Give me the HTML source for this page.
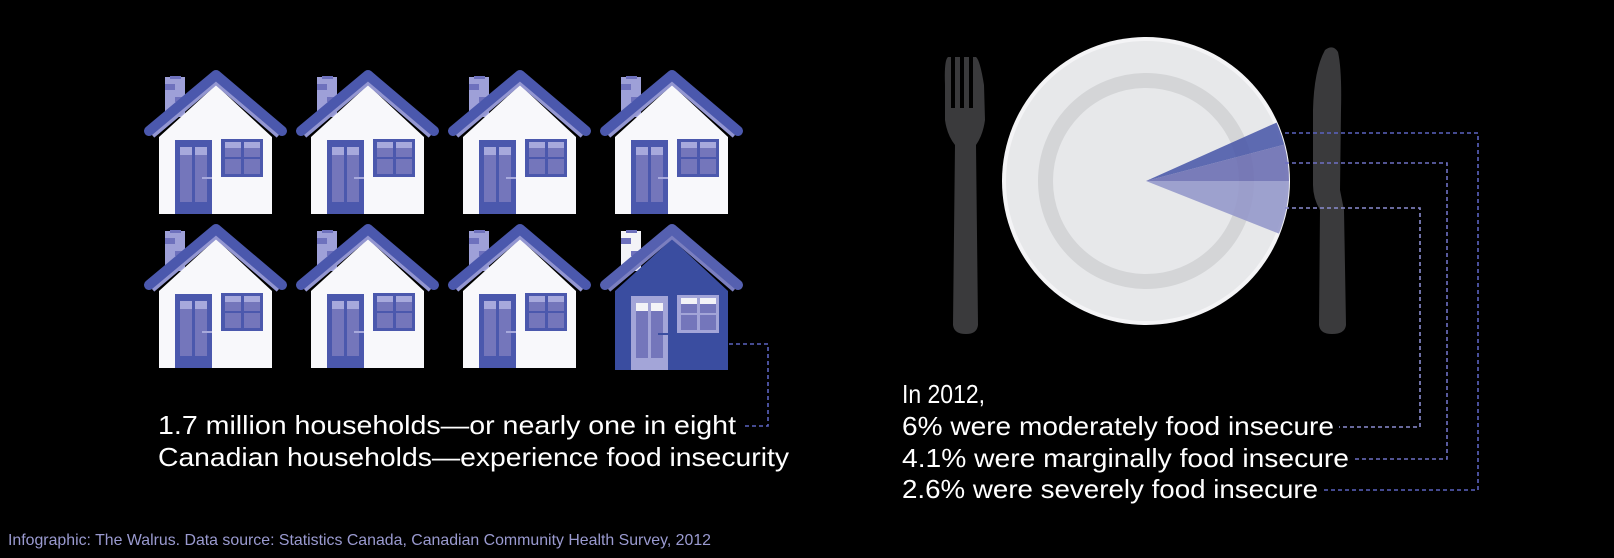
<!DOCTYPE html>
<html><head><meta charset="utf-8"><style>
html,body{margin:0;padding:0;background:#000;}
svg{display:block;}
text{font-family:"Liberation Sans",sans-serif;}
</style></head><body>
<svg id="c" width="1614" height="558" viewBox="0 0 1614 558">
<defs>
<g id="house">
  <rect x="-51" y="-2" width="20" height="40" fill="#9ea0d8"/>
  <rect x="-46" y="-3" width="11" height="3" fill="#6e71bd"/>
  <rect x="-51" y="5" width="10" height="6" fill="#6e71bd"/>
  <rect x="-41" y="18" width="10" height="5" fill="#6e71bd"/>
  <polygon points="-57,58 0,6 56,58 56,135 -57,135" fill="#f8f8fb"/>
  <polyline points="-64,56 0,2 63,56" fill="none" stroke="#9396d1" stroke-width="7"/>
  <polyline points="-67,56 0,0 66,56" fill="none" stroke="#4b58ad" stroke-width="10" stroke-linecap="round" stroke-linejoin="round" transform="translate(0,-4)"/>
  <rect x="-41" y="61" width="37" height="74" fill="#4b58ad"/>
  <rect x="-36" y="68" width="12" height="55" fill="#7476bb"/>
  <rect x="-21" y="68" width="12" height="55" fill="#7476bb"/>
  <rect x="-36" y="68" width="12" height="8" fill="#a7a9dc"/>
  <rect x="-21" y="68" width="12" height="8" fill="#a7a9dc"/>
  <rect x="-14" y="98" width="10" height="2" fill="#a7a9dc"/>
  <rect x="5" y="60" width="42" height="38" fill="#4b58ad"/>
  <rect x="9" y="63" width="16" height="15" fill="#7476bb"/>
  <rect x="28" y="63" width="16" height="15" fill="#7476bb"/>
  <rect x="9" y="63" width="16" height="6" fill="#a7a9dc"/>
  <rect x="28" y="63" width="16" height="6" fill="#a7a9dc"/>
  <rect x="9" y="80" width="16" height="15" fill="#7476bb"/>
  <rect x="28" y="80" width="16" height="15" fill="#7476bb"/>
</g>
<g id="house-hl">
  <rect x="-51" y="-2" width="20" height="40" fill="#f3f3f7"/>
  <rect x="-46" y="-3" width="11" height="3" fill="#6e71bd"/>
  <rect x="-51" y="5" width="10" height="6" fill="#6e71bd"/>
  <rect x="-41" y="18" width="10" height="5" fill="#6e71bd"/>
  <polygon points="-57,58 0,6 56,58 56,137 -57,137" fill="#3a4da0"/>
  <polyline points="-64,56 0,2 63,56" fill="none" stroke="#7b7fc0" stroke-width="7"/>
  <polyline points="-67,56 0,0 66,56" fill="none" stroke="#5560b0" stroke-width="10" stroke-linecap="round" stroke-linejoin="round" transform="translate(0,-4)"/>
  <rect x="-41" y="63" width="37" height="74" fill="#a3a5d8"/>
  <rect x="-36" y="70" width="12" height="55" fill="#7476bb"/>
  <rect x="-21" y="70" width="12" height="55" fill="#7476bb"/>
  <rect x="-36" y="70" width="12" height="8" fill="#f3f3f7"/>
  <rect x="-21" y="70" width="12" height="8" fill="#f3f3f7"/>
  <rect x="-14" y="100" width="10" height="2" fill="#3a4da0"/>
  <rect x="5" y="62" width="42" height="38" fill="#a3a5d8"/>
  <rect x="9" y="65" width="16" height="15" fill="#7476bb"/>
  <rect x="28" y="65" width="16" height="15" fill="#7476bb"/>
  <rect x="9" y="65" width="16" height="6" fill="#f3f3f7"/>
  <rect x="28" y="65" width="16" height="6" fill="#f3f3f7"/>
  <rect x="9" y="82" width="16" height="15" fill="#7476bb"/>
  <rect x="28" y="82" width="16" height="15" fill="#7476bb"/>
</g>
</defs>
<g id="houses"></g>

<g fill="#3a3a3c">
  <path d="M945,85 Q944,60 948,57 L951,57 L951,108 L955,108 L955,57 L960,57 L960,108 L964,108 L964,57 L969,57 L969,108 L973,108 L973,57 L976,57 Q980,60 984,85 L985,120 Q983,135 976,145 L978,325 Q977,334 966,334 Q954,334 953,325 L955,145 Q947,135 945,120 Z"/>
</g>
<g fill="#3a3a3c">
  <path d="M1325,50 Q1333,44 1338,52 Q1342,70 1341,110 L1340,190 L1344,210 L1346,325 Q1345,334 1332,334 Q1320,334 1319,325 L1320,210 Q1313,198 1313,185 L1313,110 Q1314,70 1325,50 Z"/>
</g>
<g>
  <circle cx="1146" cy="181" r="144" fill="#f4f4f6"/>
  <circle cx="1146" cy="181" r="140" fill="#e7e8ea"/>
  <circle cx="1146" cy="181" r="100.5" fill="none" stroke="#d4d5d7" stroke-width="15"/>
</g>
<g id="wedges"></g>
<g id="leaders"></g>

<g fill="#fff" font-size="26">
  <text x="158" y="434" textLength="578" lengthAdjust="spacingAndGlyphs">1.7 million households—or nearly one in eight</text>
  <text x="158" y="466" textLength="631" lengthAdjust="spacingAndGlyphs">Canadian households—experience food insecurity</text>
</g>
<g id="stats" fill="#fff" font-size="26">
  <text x="902" y="403" textLength="83" lengthAdjust="spacingAndGlyphs">In 2012,</text>
</g>
<text x="8" y="545" fill="#9a9ad0" font-size="16" textLength="703" lengthAdjust="spacingAndGlyphs">Infographic: The Walrus. Data source: Statistics Canada, Canadian Community Health Survey, 2012</text>
</svg>
<script>
const categories = ['severely', 'marginally', 'moderately'];
const percents = [2.6, 4.1, 6];
const labels = ['2.6% were severely food insecure', '4.1% were marginally food insecure', '6% were moderately food insecure'];
const householdsTotal = 8;
const householdsHighlighted = 1;

const NS = 'http://www.w3.org/2000/svg';
const svg = document.getElementById('c');
function mk(tag, attrs, parent){const e=document.createElementNS(NS,tag);for(const k in attrs)e.setAttribute(k,attrs[k]);parent.appendChild(e);return e;}

// houses
const hg = document.getElementById('houses');
for (let i=0;i<householdsTotal;i++){
  const col=i%4,row=Math.floor(i/4);
  const hl = i >= householdsTotal-householdsHighlighted;
  const u = mk('use',{href: hl?'#house-hl':'#house', transform:`translate(${216+152*col},${79+154*row})`},hg);
  
  
}

// wedges: angle = pct * 3.6 deg
const cx=1146, cy=181, R=143;
const angle = p => p*3.6;
const fills = ['#4a58a8','#6a6cb2','#9396c9'];
// moderate goes downward from 0, marginal upward from 0, severe above marginal
const spans = [
  [-(angle(percents[1])+angle(percents[0])), -angle(percents[1])],
  [-angle(percents[1]), 0],
  [0, angle(percents[2])]
];
const wg=document.getElementById('wedges');
const midY=[];
spans.forEach((s,i)=>{
  const a0=s[0]*Math.PI/180,a1=s[1]*Math.PI/180;
  const x0=cx+R*Math.cos(a0),y0=cy+R*Math.sin(a0),x1=cx+R*Math.cos(a1),y1=cy+R*Math.sin(a1);
  const p=mk('path',{d:`M${cx},${cy} L${x0},${y0} A${R},${R} 0 0 1 ${x1},${y1} Z`,fill:fills[i],'fill-opacity':0.88},wg);
  
  
  const am=(a0+a1)/2; midY.push(cy+R*Math.sin(am));
});

// stats text and leaders
const st=document.getElementById('stats');
const textY={severely:498, marginally:467, moderately:435};
const textEnd={severely:1318, marginally:1349, moderately:1334};
const vx={severely:1478, marginally:1447, moderately:1420};
const lcol={severely:'#5b63c0', marginally:'#6e70c4', moderately:'#8a8cd0'};
const lg=document.getElementById('leaders');
categories.forEach((c,i)=>{
  const t=mk('text',{x:902,y:textY[c],textLength:textEnd[c]-902,lengthAdjust:'spacingAndGlyphs'},st);
  t.textContent=labels[i];
  
  
  const y=Math.round(midY[i]);
  const pl=mk('polyline',{points:`1285,${y} ${vx[c]},${y} ${vx[c]},${textY[c]-8} ${textEnd[c]+5},${textY[c]-8}`,fill:'none',stroke:lcol[c],'stroke-width':1.6,'stroke-dasharray':'4 3'},lg);
  
  
});
const hl=mk('polyline',{points:'729,344 768,344 768,426 745,426',fill:'none',stroke:'#5b63c0','stroke-width':1.6,'stroke-dasharray':'4 3'},lg);


</script>
</body></html>
